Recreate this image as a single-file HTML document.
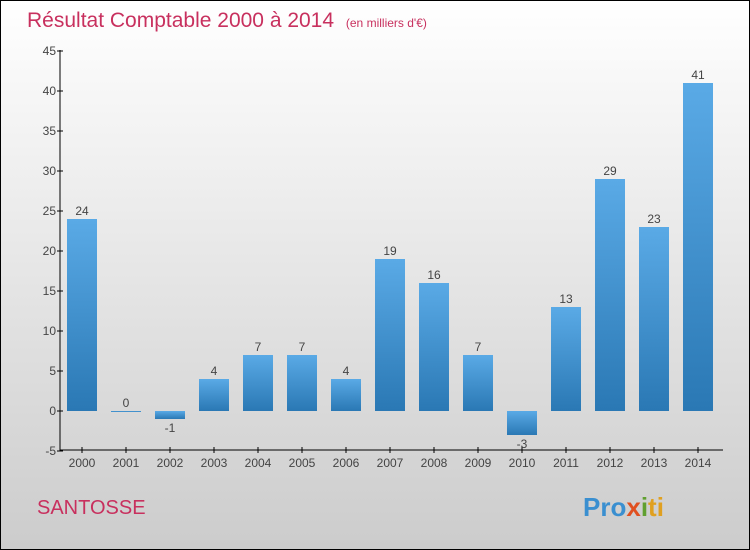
<!DOCTYPE html>
<html><head><meta charset="utf-8"><style>
body{margin:0}
#c{width:748px;height:548px;border:1px solid #000;background:linear-gradient(#fff,#ccc);position:relative;font-family:"Liberation Sans",sans-serif;overflow:hidden}
</style></head><body>
<div id="c">
<svg width="748" height="548" id="svg">
<defs><linearGradient id="g" x1="0" y1="0" x2="0" y2="1"><stop offset="0" stop-color="#5aaae6"/><stop offset="1" stop-color="#2a78b4"/></linearGradient></defs>
<text x="26" y="26" font-size="21" fill="#c8305e">Résultat Comptable 2000 à 2014 <tspan font-size="12" dx="6">(en milliers d'€)</tspan></text>
<text x="36" y="513" font-size="20" fill="#c8305e">SANTOSSE</text>
<text x="582" y="515" font-size="26" font-weight="bold" fill="#3a8fd0">Pro<tspan fill="#e05020">x</tspan><tspan fill="#60a030">i</tspan><tspan fill="#e0a020">ti</tspan></text>
<g id="plot"></g>
</svg></div>
<script>
const years=["2000","2001","2002","2003","2004","2005","2006","2007","2008","2009","2010","2011","2012","2013","2014"];
const values=[24,0,-1,4,7,7,4,19,16,7,-3,13,29,23,41];
const ticks=[-5,0,5,10,15,20,25,30,35,40,45];
const ns="http://www.w3.org/2000/svg";
const g=document.getElementById('plot');
const y=v=>410-v*8;
const x=i=>81+i*44;
function mk(t,a){const e=document.createElementNS(ns,t);for(const k in a)e.setAttribute(k,a[k]);g.appendChild(e);return e;}
let ax=mk('path',{d:'M59 49V449H722',stroke:'#000',fill:'none'});


ticks.forEach(t=>{
 const l=mk('line',{x1:56,x2:62,y1:y(t),y2:y(t),stroke:'#000'});
 
 
 const tx=mk('text',{x:55,y:y(t)+4,'font-size':12,fill:'#444','text-anchor':'end'});tx.textContent=t;
 
 
});
years.forEach((yr,i)=>{
 const v=values[i],cx=x(i);
 const l=mk('line',{x1:cx,x2:cx,y1:446,y2:452,stroke:'#000'});
 
 
 const tx=mk('text',{x:cx,y:466,'font-size':12,fill:'#444','text-anchor':'middle'});tx.textContent=yr;
 
 
 const top=Math.min(y(v),y(0)),h=Math.max(Math.abs(y(v)-y(0)),1);
 const r=mk('rect',{x:cx-15,y:top,width:30,height:h,fill:'url(#g)'});
 
 
 const lb=mk('text',{x:cx,y:v>=0?top-4:top+h+13,'font-size':12,fill:'#444','text-anchor':'middle'});lb.textContent=v;
 
 
});
</script>
</body></html>
